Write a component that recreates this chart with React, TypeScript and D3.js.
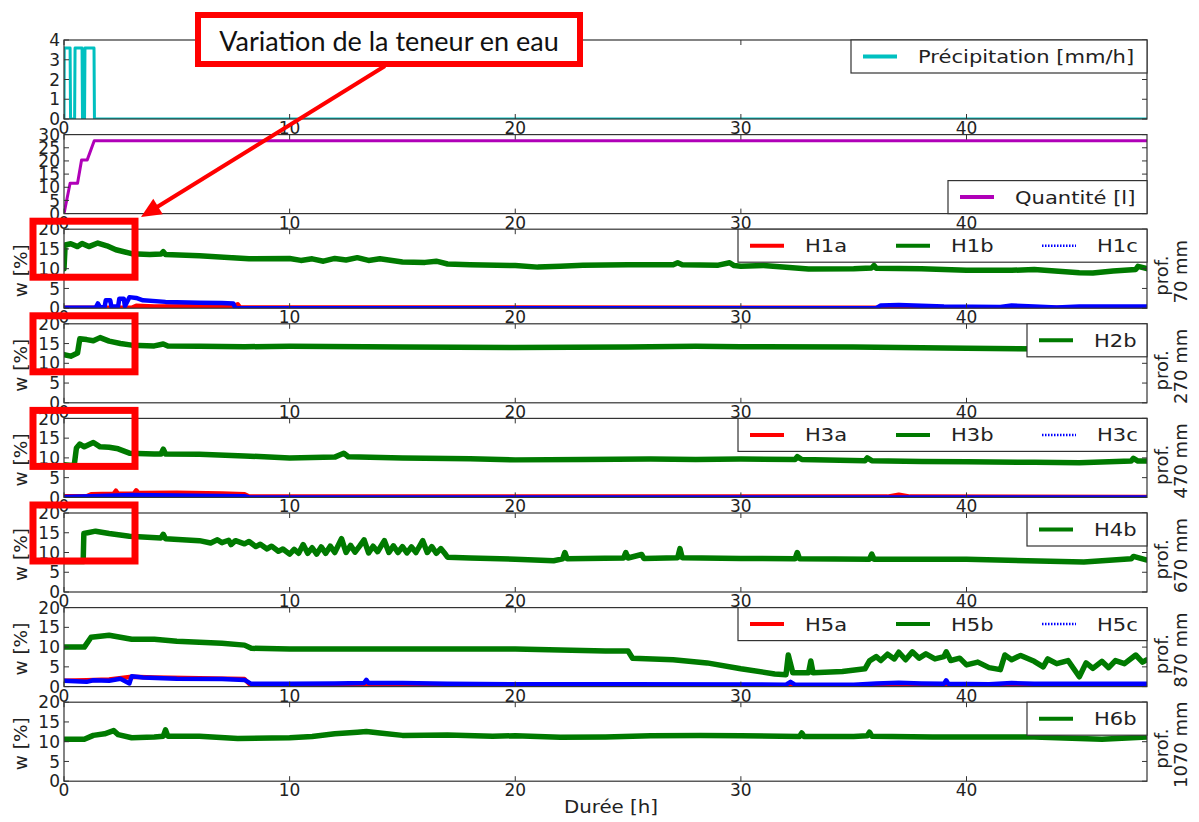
import React from "react";
import * as d3 from "d3";

type Pt = [number, number];

// hours on the shared x axis
const hourTicks = [0, 10, 20, 30, 40];

const precipitation: Pt[] = [
  [0, 0], [0.01, 3.6], [0.27, 3.6], [0.29, 0], [0.47, 0], [0.49, 3.6], [0.8, 3.6], [0.82, 0],
  [0.91, 0], [0.93, 3.6], [1.33, 3.6], [1.35, 0], [48, 0],
];

const quantite: Pt[] = [
  [0, 0], [0.27, 11.5], [0.6, 11.5], [0.78, 20.4], [1.03, 20.4], [1.34, 27.7], [48, 27.7],
];

const h1a: Pt[] = [
  [0, 0.1], [3, 0.1], [3.2, 0.6], [4, 0.4], [6, 0.5], [7.5, 0.6], [7.7, 1], [7.8, 0.2], [48, 0.1],
];
const h1b: Pt[] = [
  [0, 10], [0.05, 16], [0.3, 16.3], [0.6, 15.6], [0.8, 16.4], [1.1, 15.6], [1.5, 16.5], [1.9, 15.8],
  [2.3, 14.8], [3, 13.8], [3.8, 13.6], [4.3, 13.7], [4.4, 14.3], [4.5, 13.6], [6, 13.3], [8.2, 12.5],
  [10, 12.6], [10.5, 12.1], [11, 12.5], [11.5, 11.9], [12, 12.6], [12.5, 12.2], [13, 12.8], [13.5, 12.1],
  [14, 12.5], [15, 11.7], [16, 11.6], [16.5, 11.9], [17, 11.2], [18, 11], [20, 10.8], [21, 10.4],
  [22, 10.6], [23, 10.9], [25, 11], [27, 11], [27.2, 11.5], [27.4, 11], [29, 10.9], [29.5, 11.5],
  [29.7, 10.8], [30, 10.6], [31, 10.8], [33, 9.9], [35, 10], [35.8, 10.2], [35.9, 10.8], [36, 10.1],
  [38, 10], [40, 9.6], [42, 9.6], [43, 9.8], [45, 9], [45.6, 8.9], [46.5, 9.4], [47.5, 9.8],
  [47.6, 10.6], [48, 10],
];
const h1c: Pt[] = [
  [0, 0.1], [1.4, 0.1], [1.5, 1.2], [1.6, 0.2], [1.8, 0.3], [1.85, 2], [2.05, 2], [2.1, 0.4],
  [2.4, 0.5], [2.45, 2.4], [2.65, 2.4], [2.7, 0.5], [2.9, 2.8], [3.2, 2.6], [3.5, 2], [4.5, 1.6],
  [6, 1.4], [7, 1.3], [7.5, 1.2], [7.6, 0], [36, 0], [36.2, 0.7], [37, 0.8], [38, 0.6], [39, 0.4],
  [41.5, 0.3], [42, 0.7], [43, 0.4], [44, 0.2], [45, 0.4], [48, 0.4],
];

const h2b: Pt[] = [
  [0, 12.2], [0.3, 11.8], [0.6, 12.6], [0.7, 16.2], [1, 16], [1.3, 15.7], [1.6, 16.5], [2, 15.6],
  [2.5, 15], [3, 14.6], [4, 14.4], [4.4, 14.9], [4.6, 14.4], [6, 14.3], [8, 14.2], [10, 14.3],
  [15, 14.1], [20, 14], [25, 14.1], [28, 14.3], [30, 14.2], [35, 14.1], [40, 13.8], [44, 13.6], [48, 13.6],
];

const h3a: Pt[] = [
  [0, 0.3], [1, 0.3], [1.2, 0.8], [2.2, 0.9], [2.3, 1.7], [2.4, 0.9], [3.1, 1], [3.2, 1.8], [3.3, 1.1],
  [5, 1.2], [7, 1], [8, 0.8], [8.2, 0.2], [36.5, 0.2], [37, 0.7], [37.5, 0.2], [48, 0.1],
];
const h3b: Pt[] = [
  [0, 8.3], [0.45, 8], [0.55, 12.5], [0.7, 13.5], [0.9, 12.8], [1.3, 13.9], [1.6, 12.8], [2, 12.7],
  [2.4, 12.3], [2.9, 11.2], [4, 11], [4.3, 11], [4.4, 12.2], [4.5, 11], [6, 10.9], [8, 10.5],
  [10, 10], [12, 10.2], [12.4, 11.2], [12.6, 10.3], [15, 10], [18, 9.8], [20, 9.5], [23, 9.6],
  [26, 9.7], [28, 9.6], [30, 9.7], [32.4, 9.6], [32.5, 10.3], [32.7, 9.6], [35.5, 9.3], [35.6, 10],
  [35.8, 9.3], [38, 9.1], [40, 9], [43, 8.9], [45, 8.8], [47.3, 9.2], [47.4, 9.9], [47.6, 9.2], [48, 9.2],
];
const h3c: Pt[] = [
  [0, 0.1], [1.2, 0.3], [3, 0.6], [6, 0.4], [8, 0.3], [8.2, 0], [48, 0],
];

const h4b: Pt[] = [
  [0, 7.7], [0.85, 7.7], [0.88, 14.8], [1.4, 15.4], [2, 14.8], [2.9, 14.1], [4.3, 13.7], [4.4, 14.6],
  [4.5, 13.5], [6, 13], [6.5, 12.4], [6.8, 13.2], [7, 12.5], [7.3, 13.1], [7.4, 12], [7.6, 13],
  [8, 12.2], [8.2, 12.8], [8.5, 11.5], [8.7, 12.1], [9, 10.9], [9.2, 11.6], [9.5, 10.3], [9.7, 10.9],
  [10, 9.6], [10.2, 10.8], [10.4, 9.8], [10.6, 12], [10.8, 9.8], [11, 11.2], [11.2, 9.6], [11.4, 11.4],
  [11.6, 9.8], [11.8, 11.6], [12, 10], [12.3, 13.5], [12.5, 10], [12.7, 11.8], [12.9, 10.1],
  [13.1, 11.6], [13.3, 13.2], [13.5, 9.9], [13.7, 11.6], [13.9, 10.2], [14.2, 13], [14.4, 10],
  [14.6, 11.7], [14.8, 10], [15, 11.5], [15.2, 9.9], [15.4, 11.4], [15.6, 10], [15.9, 13], [16.1, 10],
  [16.3, 11.5], [16.5, 9.8], [16.7, 11], [16.9, 9.6], [17, 8.8], [18, 8.6], [20, 8.3], [21.7, 7.9],
  [22.1, 8.4], [22.2, 10], [22.3, 8.4], [24.8, 8.6], [24.9, 10], [25, 8.6], [25.6, 9.5], [25.7, 8.5],
  [27.2, 8.7], [27.3, 11], [27.4, 8.7], [30, 8.5], [32.4, 8.4], [32.5, 10], [32.6, 8.4], [35.7, 8.3],
  [35.8, 9.6], [35.9, 8.3], [40, 8.3], [45.2, 7.6], [47.3, 8.4], [47.4, 9], [48, 8.1],
];

const h5a: Pt[] = [
  [0, 1.5], [1, 1.6], [2, 1.8], [3, 2.5], [4, 2.3], [6, 2.1], [8, 1.9], [8.3, 0.2], [25, 0.2],
  [25.5, 0.1], [28, 0.2], [48, 0.1],
];
const h5b: Pt[] = [
  [0, 10], [0.9, 10], [1.2, 12.5], [2, 13], [3, 12], [4, 12], [5, 11.5], [7, 11], [8, 10.5],
  [8.3, 9.7], [10, 9.5], [15, 9.5], [20, 9.5], [24, 9], [25, 9], [25.2, 7.2], [27, 6.8], [28.5, 6],
  [30, 4.5], [31.5, 3.2], [32, 3], [32.1, 8], [32.3, 3.5], [33, 3.5], [33.1, 6.5], [33.2, 3.5],
  [34.5, 3.8], [35.5, 4.5], [35.7, 6.5], [36, 7.6], [36.2, 6.6], [36.5, 8.2], [36.8, 7], [37, 8.7],
  [37.3, 6.8], [37.6, 8.8], [37.9, 7.2], [38.2, 8.3], [38.6, 7], [39, 7.6], [39.1, 8.8], [39.3, 6.6],
  [39.7, 7.2], [40, 5.5], [40.5, 6.2], [41, 4.8], [41.5, 4.3], [41.7, 8], [42, 6.8], [42.4, 7.9],
  [43, 6.4], [43.4, 5], [43.6, 7], [44, 5.8], [44.5, 6.6], [45, 2.5], [45.3, 6], [45.6, 4.6],
  [46, 6.4], [46.3, 4.8], [46.6, 6.6], [47, 5.8], [47.5, 8], [47.8, 6.2], [48, 6.8],
];
const h5c: Pt[] = [
  [0, 1.5], [1, 1.2], [1.3, 1.6], [2, 1.5], [2.5, 2], [2.9, 0.8], [3, 2.6], [3.5, 2.3], [5, 2],
  [7, 1.9], [8, 1.7], [8.3, 0.7], [10, 0.7], [12, 0.8], [13.3, 0.9], [13.4, 1.7], [13.5, 0.9],
  [15, 0.9], [17, 0.7], [20, 0.6], [25, 0.6], [32, 0.5], [32.2, 1.2], [32.4, 0.5], [35, 0.5],
  [36, 0.8], [37, 1], [38, 0.8], [39, 0.7], [39.1, 1.6], [39.2, 0.7], [41, 0.6], [42, 0.9],
  [43, 0.7], [48, 0.7],
];

const h6b: Pt[] = [
  [0, 10.6], [0.9, 10.6], [1.3, 11.6], [1.8, 12], [2.2, 12.8], [2.4, 11.8], [3, 11], [4, 11.2],
  [4.4, 11.4], [4.5, 13], [4.6, 11.4], [6, 11.4], [7.7, 10.8], [10, 11], [11, 11.3], [12, 12],
  [13, 12.4], [13.4, 12.6], [14, 12.2], [15, 11.6], [17, 11.7], [19, 11.4], [20, 11.5], [22, 11.1],
  [24, 11.2], [26, 11.5], [28.2, 11.6], [30, 11.5], [32.6, 11.3], [32.7, 12.2], [32.8, 11.3],
  [35, 11.3], [35.6, 11.5], [35.7, 12.4], [35.8, 11.4], [38.5, 11.2], [43, 11.2], [46, 10.6], [48, 11.2],
];

const RED = "#ff0000";
const GREEN = "#007a00";
const BLUE = "#0000ff";
const FONT = "DejaVu Sans";

type Series = { name: string; data: Pt[]; color: string; width: number; dotted?: boolean };
type Panel = {
  yMax: number;
  yTicks: number[];
  series: Series[];
  legend: { x: number; w: number; where: "top" | "bottom" };
  depth?: string;
};

const wTicks = [0, 5, 10, 15, 20];

const panels: Panel[] = [
  {
    yMax: 4, yTicks: [0, 1, 2, 3, 4],
    series: [{ name: "Précipitation [mm/h]", data: precipitation, color: "#00c0c0", width: 3 }],
    legend: { x: 851, w: 296, where: "top" },
  },
  {
    yMax: 30, yTicks: [0, 5, 10, 15, 20, 25, 30],
    series: [{ name: "Quantité [l]", data: quantite, color: "#b000b8", width: 3 }],
    legend: { x: 948, w: 199, where: "bottom" },
  },
  {
    yMax: 20, yTicks: wTicks, depth: "70 mm",
    series: [
      { name: "H1a", data: h1a, color: RED, width: 4.5 },
      { name: "H1b", data: h1b, color: GREEN, width: 5.5 },
      { name: "H1c", data: h1c, color: BLUE, width: 4.5, dotted: true },
    ],
    legend: { x: 738, w: 409, where: "top" },
  },
  {
    yMax: 20, yTicks: wTicks, depth: "270 mm",
    series: [{ name: "H2b", data: h2b, color: GREEN, width: 5.5 }],
    legend: { x: 1027, w: 120, where: "top" },
  },
  {
    yMax: 20, yTicks: wTicks, depth: "470 mm",
    series: [
      { name: "H3a", data: h3a, color: RED, width: 4.5 },
      { name: "H3b", data: h3b, color: GREEN, width: 5.5 },
      { name: "H3c", data: h3c, color: BLUE, width: 4.5, dotted: true },
    ],
    legend: { x: 738, w: 409, where: "top" },
  },
  {
    yMax: 20, yTicks: wTicks, depth: "670 mm",
    series: [{ name: "H4b", data: h4b, color: GREEN, width: 5.5 }],
    legend: { x: 1027, w: 120, where: "top" },
  },
  {
    yMax: 20, yTicks: wTicks, depth: "870 mm",
    series: [
      { name: "H5a", data: h5a, color: RED, width: 4.5 },
      { name: "H5b", data: h5b, color: GREEN, width: 5.5 },
      { name: "H5c", data: h5c, color: BLUE, width: 4.5, dotted: true },
    ],
    legend: { x: 738, w: 409, where: "top" },
  },
  {
    yMax: 20, yTicks: wTicks, depth: "1070 mm",
    series: [{ name: "H6b", data: h6b, color: GREEN, width: 5.5 }],
    legend: { x: 1027, w: 120, where: "top" },
  },
];

const X0 = 64;
const X1 = 1147;
const PH = 79;
const panelTop = (i: number) => 40 + i * 94.6;

const x = d3.scaleLinear().domain([0, 48]).range([X0, X1]);

const highlight = [0, 1, 2, 3]; // red boxes on the H1..H4 panels

const PanelView = ({ p, i }: { p: Panel; i: number }) => {
  const top = panelTop(i);
  const bottom = top + PH;
  const y = d3.scaleLinear().domain([0, p.yMax]).range([bottom, top]);
  const line = d3.line<Pt>().x((d) => x(d[0])).y((d) => y(d[1]));
  const clip = `clip-${i}`;
  const lg = p.legend;
  const lgH = 33;
  const lgY = lg.where === "top" ? top : bottom - lgH;
  const step = p.series.length > 1 ? 146 : 0;
  const mid = top + PH / 2;
  return (
    <g>
      <clipPath id={clip}>
        <rect x={X0} y={top} width={X1 - X0} height={PH} />
      </clipPath>
      <g clipPath={`url(#${clip})`}>
        {p.series.map((s) => (
          <path key={s.name} d={line(s.data) || ""} fill="none" stroke={s.color}
            strokeWidth={s.width} strokeLinejoin="round" strokeLinecap="round" />
        ))}
      </g>
      <rect x={X0} y={top} width={X1 - X0} height={PH} fill="none" stroke="#333" strokeWidth={1.2} />
      {hourTicks.map((t) => (
        <g key={t}>
          <line x1={x(t)} x2={x(t)} y1={bottom} y2={bottom - 5} stroke="#333" />
          <line x1={x(t)} x2={x(t)} y1={top} y2={top + 5} stroke="#333" />
          <text x={x(t)} y={bottom + 15} textAnchor="middle" fontSize={17} fill="#222">{t}</text>
        </g>
      ))}
      {p.yTicks.map((v) => (
        <g key={v}>
          <line x1={X0} x2={X0 + 5} y1={y(v)} y2={y(v)} stroke="#333" />
          <line x1={X1} x2={X1 - 5} y1={y(v)} y2={y(v)} stroke="#333" />
          <text x={60} y={y(v)} dy="0.36em" textAnchor="end" fontSize={17} fill="#222">{v}</text>
        </g>
      ))}
      <rect x={lg.x} y={lgY} width={lg.w} height={lgH} fill="#fff" stroke="#333" strokeWidth={1.2} />
      {p.series.map((s, k) => {
        const lx = lg.x + 12 + k * step;
        const ly = lgY + lgH / 2;
        return (
          <g key={s.name}>
            <line x1={lx} x2={lx + 34} y1={ly} y2={ly} stroke={s.color}
              strokeWidth={s.dotted ? 2.5 : 4} strokeDasharray={s.dotted ? "1.5,1.5" : undefined} />
            <text transform={`translate(${lx + 55},${ly}) scale(1.17,1)`} dy="0.36em"
              fontSize={18} fill="#222">{s.name}</text>
          </g>
        );
      })}
      {p.depth && (
        <>
          <text transform={`translate(20,${mid + 2}) rotate(-90)`} dy="0.36em" textAnchor="middle"
            fontSize={18.5} fill="#222">w [%]</text>
          <text transform={`translate(1162,${mid + 7}) rotate(-90)`} dy="0.36em" textAnchor="middle"
            fontSize={18} fill="#222">prof.</text>
          <text transform={`translate(1181,${mid + 3}) rotate(-90)`} dy="0.36em" textAnchor="middle"
            fontSize={18} fill="#222">{p.depth}</text>
        </>
      )}
    </g>
  );
};

// arrow from the caption box down to the first red frame
const arrowFrom: Pt = [385, 66];
const arrowTo: Pt = [141, 217];

const Arrow = () => {
  const dx = arrowTo[0] - arrowFrom[0];
  const dy = arrowTo[1] - arrowFrom[1];
  const len = Math.hypot(dx, dy);
  const ux = dx / len;
  const uy = dy / len;
  const head = 20;
  const half = 9;
  const bx = arrowTo[0] - ux * head;
  const by = arrowTo[1] - uy * head;
  const pts = [
    [arrowTo[0], arrowTo[1]],
    [bx - uy * half, by + ux * half],
    [bx + uy * half, by - ux * half],
  ].map((q) => q.join(",")).join(" ");
  return (
    <g>
      <line x1={arrowFrom[0]} y1={arrowFrom[1]} x2={bx + ux * 2} y2={by + uy * 2} stroke={RED} strokeWidth={4} />
      <polygon points={pts} fill={RED} />
    </g>
  );
};

export default function App() {
  const boxTops = highlight.map((k) => panelTop(k + 2) - 8);
  return (
    <svg width={1199} height={822} style={{ position: "absolute", left: 0, top: 0 }}
      fontFamily={FONT}>
      <rect width={1199} height={822} fill="#fff" />
      {panels.map((p, i) => (
        <PanelView key={i} p={p} i={i} />
      ))}
      <text transform="translate(611,813) scale(1.1,1)" textAnchor="middle" fontSize={18} fill="#222">Durée [h]</text>

      {boxTops.map((t, k) => (
        <rect key={k} x={33} y={t} width={102} height={56} fill="none" stroke={RED} strokeWidth={7} />
      ))}
      <rect x={198} y={15} width={382} height={49} fill="#fff" stroke={RED} strokeWidth={6} />
      <text x={389} y={51} textAnchor="middle" fontSize={27} fontFamily="Lato" fill="#111">
        Variation de la teneur en eau
      </text>
      <Arrow />
    </svg>
  );
}
